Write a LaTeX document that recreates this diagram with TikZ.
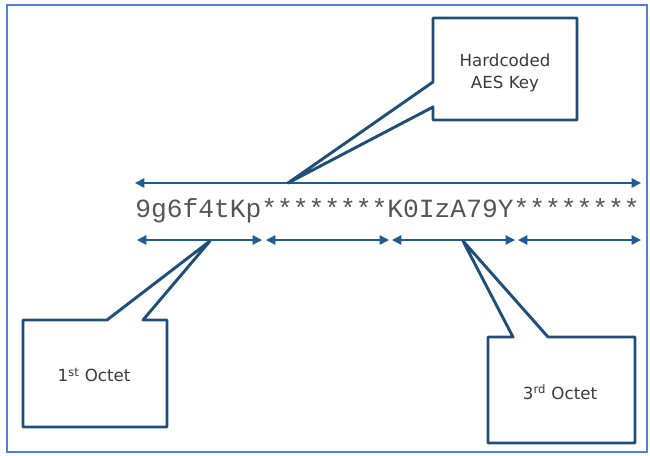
\documentclass[tikz,border=0pt]{standalone}
\usepackage{fontspec}
\setmainfont{DejaVu Sans}
\setmonofont{Liberation Mono}
\usetikzlibrary{arrows.meta}
\definecolor{boxblue}{HTML}{1F4E79}
\definecolor{arrblue}{HTML}{1F5C92}
\definecolor{frameblue}{HTML}{4F81D6}
\definecolor{txtgray}{HTML}{3A3A3A}
\definecolor{strgray}{HTML}{555555}
\tikzset{
  callout/.style={draw=boxblue, line width=2.2pt, line join=round, fill=white},
  span/.style={draw=arrblue, line width=1.1pt, {Triangle[length=7pt,width=7pt]}-{Triangle[length=7pt,width=7pt]}},
  lbl/.style={inner sep=0pt, text=txtgray, align=center, font=\fontsize{12.5}{16.5}\selectfont},
  mono/.style={inner sep=0pt, text=strgray, font=\ttfamily\fontsize{19.7}{22}\selectfont}
}
\begin{document}
\begin{tikzpicture}[x=0.75pt, y=-0.75pt]
  \useasboundingbox (0,0) rectangle (650,455);
  \draw[frameblue, line width=1.5pt] (7,5) rectangle (647,452);

  \node[mono] (keystr) at (387.5,211) {9g6f4tKp********K0IzA79Y********};

  \coordinate (l0) at (135,183);
  \coordinate (r0) at (641,183);
  \draw[span] (l0) -- (r0);
  \coordinate (a0) at (137,240);
  \coordinate (a1) at (262,240);
  \coordinate (b0) at (266,240);
  \coordinate (b1) at (389,240);
  \coordinate (c0) at (392,240);
  \coordinate (c1) at (515,240);
  \coordinate (d0) at (518,240);
  \coordinate (d1) at (641,240);
  \draw[span] (a0) -- (a1);
  \draw[span] (b0) -- (b1);
  \draw[span] (c0) -- (c1);
  \draw[span] (d0) -- (d1);

  \coordinate (keytip) at (288,183);
  \coordinate (onetip) at (210,241);
  \coordinate (threetip) at (463,241);

  \draw[callout] (433,18) -- (577,18) -- (577,120) -- (433,120) -- (433,107) -- (keytip) -- (433,82) -- cycle;
  \draw[callout] (23,320) -- (107,320) -- (onetip) -- (143,320) -- (167,320) -- (167,427) -- (23,427) -- cycle;
  \draw[callout] (488,337) -- (513,337) -- (threetip) -- (548,337) -- (635,337) -- (635,443) -- (488,443) -- cycle;

  \node[lbl] (keytxt) at (505,73) {Hardcoded\\AES Key};
  \node[lbl] (onetxt) at (94,375) {1\textsuperscript{st} Octet};
  \node[lbl] (threetxt) at (560,392) {3\textsuperscript{rd} Octet};
\end{tikzpicture}
\end{document}
